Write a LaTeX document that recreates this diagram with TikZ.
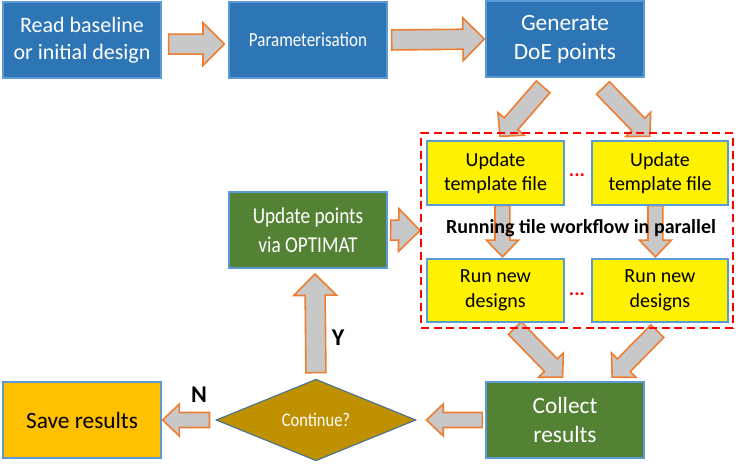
\documentclass[tikz,border=0pt]{standalone}
\usepackage{fontspec}
\setmainfont{Carlito}
\newfontfamily\narrowfont[FakeStretch=0.85]{Carlito}
\usetikzlibrary{calc,shapes.geometric,backgrounds}

\definecolor{boxblue}{HTML}{2E75B6}
\definecolor{boxline}{HTML}{5B9BD5}
\definecolor{boxgreen}{HTML}{548235}
\definecolor{savegold}{HTML}{FFC000}
\definecolor{diagold}{HTML}{BF9000}
\definecolor{diablue}{HTML}{41719C}
\definecolor{arrorange}{HTML}{ED7D31}
\definecolor{arrgray}{HTML}{C8C8C8}

% freccia a blocco da (#1) a (#2), distacco #3 e #4
\newcommand{\arrowsize}[3]{\def\shaftw{#1}\def\headw{#2}\def\headl{#3}}
\newcommand{\blockarrow}[4]{%
	\coordinate (s) at ($(#1)!#3!(#2)$);
	\coordinate (e) at ($(#2)!#4!(#1)$);
	\coordinate (hb) at ($(e)!\headl!(s)$);
	\draw[flow] ($(s)!\shaftw!90:(e)$) -- ($(hb)!\shaftw!90:(e)$) -- ($(hb)!\headw!90:(e)$) -- (e)
	-- ($(hb)!\headw!-90:(e)$) -- ($(hb)!\shaftw!-90:(e)$) -- ($(s)!\shaftw!-90:(e)$) -- cycle;}

\begin{document}
\begin{tikzpicture}[
	x=0.75pt, y=-0.75pt,
	box/.style={draw=boxline, line width=1.5pt, minimum width=118pt, minimum height=57pt, align=center, inner sep=2pt},
	bluebox/.style={box, fill=boxblue, text=white, font=\fontsize{17.5}{22}\selectfont},
	greenbox/.style={box, fill=boxgreen, text=white, font=\fontsize{17.5}{22}\selectfont},
	tilebox/.style={box, fill=yellow, minimum width=102.5pt, minimum height=47.5pt, font=\fontsize{15}{18.5}\selectfont},
	decision/.style={diamond, draw=diablue, line width=0.8pt, fill=diagold, text=white, minimum width=150pt, minimum height=55.5pt, inner sep=0pt, font=\narrowfont\fontsize{14.5}{17}\selectfont},
	tilegroup/.style={draw=red, line width=1.5pt, dash pattern=on 6pt off 3.5pt, minimum width=234pt, minimum height=146pt},
	flow/.style={draw=arrorange, fill=arrgray, line width=1.2pt},
	dots/.style={text=red, font=\bfseries\fontsize{15}{15}\selectfont},
	answer/.style={font=\bfseries\fontsize{18}{18}\selectfont}
	]
	\useasboundingbox (0,0) rectangle (738,464);
	
	% --- BLOCCHI IN ALTO ---
	\node[bluebox, font=\fontsize{16.5}{20}\selectfont] (read) at (82,40) {Read baseline\\or initial design};
	\node[bluebox, font=\narrowfont\fontsize{15}{18}\selectfont] (param) at (308,40) {Parameterisation};
	\node[bluebox] (doe) at (565,39) {Generate\\DoE points};
	
	% --- TILE IN PARALLELO ---
	\node[tilegroup] (tiles) at (577,230.5) {};
	\node[tilebox] (upl) at (495.5,173) {Update\\template file};
	\node[tilebox] (upr) at (660,173) {Update\\template file};
	\node[tilebox] (runl) at (495.5,290.5) {Run new\\designs};
	\node[tilebox] (runr) at (660,290.5) {Run new\\designs};
	\node[dots] (dotsup) at (577,175) {...};
	\node[dots] (dotsrun) at (577,294) {...};
	\node[font=\bfseries\fontsize{15}{15}\selectfont] (parallel) at (581,228) {Running tile workflow in parallel};
	
	% --- CICLO ---
	\node[greenbox, font=\narrowfont\fontsize{17}{21.5}\selectfont] (optimat) at (308,230) {Update points\\via OPTIMAT};
	\node[decision] (cont) at (316,420) {Continue?};
	\node[box, fill=savegold, font=\fontsize{17.5}{21}\selectfont] (save) at (82,420) {Save results};
	\node[greenbox] (collect) at (565,420) {Collect\\results};
	\node[answer] (yes) at (338,338) {Y};
	\node[answer] (no) at (199,395) {N};
	
	% --- FRECCE ---
	\begin{scope}[on background layer]
		\arrowsize{7.5pt}{16pt}{16pt}
		\blockarrow{read.-3}{param.183}{5.25pt}{3pt}
		\blockarrow{param.east}{doe.west}{3pt}{0.75pt}
		\blockarrow{optimat.east}{tiles.west}{2.25pt}{0pt}
		\blockarrow{cont.north}{optimat.-80}{4.5pt}{3.75pt}
		\arrowsize{6.75pt}{13pt}{12.5pt}
		\blockarrow{doe.-110.8}{upl.88}{8.8pt}{3.9pt}
		\blockarrow{doe.-54.2}{upr.101}{10.4pt}{4.1pt}
		\blockarrow{runl.-66.3}{collect.88.8}{5.1pt}{4.1pt}
		\blockarrow{runr.-81.3}{collect.42.8}{8.4pt}{4.1pt}
		\arrowsize{5.6pt}{12pt}{12.5pt}
		\blockarrow{upl.-78.5}{runl.78}{0pt}{0.75pt}
		\blockarrow{upr.-98}{runr.98}{0pt}{0.75pt}
		\blockarrow{cont.west}{save.east}{4.5pt}{0.75pt}
		\blockarrow{collect.west}{cont.east}{2.25pt}{7.5pt}
	\end{scope}
	
\end{tikzpicture}
\end{document}
